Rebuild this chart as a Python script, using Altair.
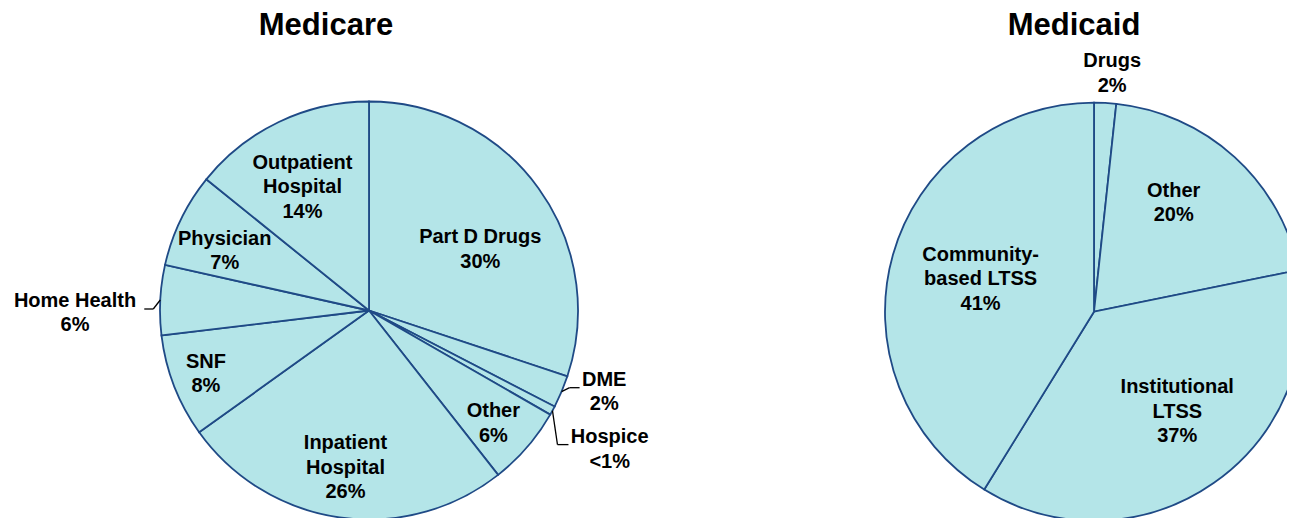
import altair as alt
import pandas as pd

# ---------------- data ----------------
care_cats = ["Part D Drugs", "DME", "Hospice", "Other", "Inpatient Hospital",
             "SNF", "Home Health", "Physician", "Outpatient Hospital"]
care_values = [30.1, 2.5, 0.7, 6.1, 25.7, 8.0, 5.4, 7.3, 14.2]
care_labels = ["Part D Drugs\n30%", "DME\n2%", "Hospice\n<1%", "Other\n6%",
               "Inpatient\nHospital\n26%", "SNF\n8%", "Home Health\n6%",
               "Physician\n7%", "Outpatient\nHospital\n14%"]

caid_cats = ["Drugs", "Other", "Institutional LTSS", "Community-based LTSS"]
caid_values = [1.7, 20.1, 37.0, 41.2]
caid_labels = ["Drugs\n2%", "Other\n20%", "Institutional\nLTSS\n37%",
               "Community-\nbased LTSS\n41%"]

titles = ["Medicare", "Medicaid"]

# ---------------- layout (label placement) ----------------
care_nudge = [7, -3.7, 1.4, 1.4, 0.4, 0, -3.4, -3.4, -2.8]
care_lr = [127, 249, 278, 168, 159, 175, 294, 156, 140]
care_kx = [0, 8, 5, 0, 0, 0, -7, 0, 0]
care_ky = [0, -4, 34, 0, 0, 0, 9, 0, 0]
care_hx = [0, 10, 11, 0, 0, 0, -9, 0, 0]

caid_nudge = [1.3, -6.1, -4.9, 0.2]
caid_lr = [239, 135, 130, 118]
caid_kx = [0, 0, 0, 0]
caid_ky = [0, 0, 0, 0]
caid_hx = [0, 0, 0, 0]

R = 209
LH = 24.5
FILL = "#B4E5E8"
EDGE = "#1F4A86"
FONT = "Liberation Sans"


def make_df(cats, values, labels, nudge, lr, kx, ky, hx):
    return pd.DataFrame({
        "cat": cats, "value": values, "label": labels,
        "idx": list(range(len(cats))), "nudge": nudge, "lr": lr,
        "kx": kx, "ky": ky, "hx": hx,
    })


def pie(df, cx, cy):
    base = alt.Chart(df)
    arcs = base.mark_arc(x=cx, y=cy, radius=R, fill=FILL, stroke=EDGE,
                         strokeWidth=1.8).encode(
        theta=alt.Theta("value:Q", stack=True),
        order=alt.Order("idx:Q"),
    )
    geo = (base
           .transform_window(cum="sum(value)", sort=[alt.SortField("idx")], frame=[None, 0])
           .transform_joinaggregate(total="sum(value)")
           .transform_calculate(
               mid="(datum.cum - datum.value/2) / datum.total * 2 * PI",
               la="datum.mid + datum.nudge * PI / 180",
               nl="split(datum.label, '\\n').length",
               lx=f"{cx} + datum.lr * sin(datum.la)",
               ly=f"{cy} - datum.lr * cos(datum.la) - (datum.nl - 1) * {LH} / 2",
               ex=f"{cx} + {R} * sin(datum.mid)",
               ey=f"{cy} - {R} * cos(datum.mid)",
               bx="datum.ex + datum.kx",
               by="datum.ey + datum.ky",
               tx="datum.bx + datum.hx",
           ))
    labels = geo.mark_text(font=FONT, fontWeight="bold", fontSize=20,
                           lineBreak="\n", lineHeight=LH, align="center",
                           baseline="middle", color="black").encode(
        x=alt.X("lx:Q", scale=None),
        y=alt.Y("ly:Q", scale=None),
        text="label:N",
    )
    lead = geo.transform_filter("datum.hx != 0")
    seg1 = lead.mark_rule(color="black", strokeWidth=1.3).encode(
        x=alt.X("ex:Q", scale=None), y=alt.Y("ey:Q", scale=None),
        x2="bx:Q", y2="by:Q")
    seg2 = lead.mark_rule(color="black", strokeWidth=1.3).encode(
        x=alt.X("bx:Q", scale=None), y=alt.Y("by:Q", scale=None),
        x2="tx:Q", y2="by:Q")
    return [arcs, seg1, seg2, labels]


care_df = make_df(care_cats, care_values, care_labels, care_nudge, care_lr,
                  care_kx, care_ky, care_hx)
caid_df = make_df(caid_cats, caid_values, caid_labels, caid_nudge, caid_lr,
                  caid_kx, caid_ky, caid_hx)

title_df = pd.DataFrame({"t": titles})
t1 = alt.Chart(title_df).transform_filter(alt.datum.t == titles[0]).mark_text(
    font=FONT, fontWeight="bold", fontSize=31, align="center",
    baseline="alphabetic", color="black").encode(
    text="t:N", x=alt.value(318), y=alt.value(27))
t2 = alt.Chart(title_df).transform_filter(alt.datum.t == titles[1]).mark_text(
    font=FONT, fontWeight="bold", fontSize=31, align="center",
    baseline="alphabetic", color="black").encode(
    text="t:N", x=alt.value(1066), y=alt.value(27))

layers = pie(care_df, 361, 302.5) + pie(caid_df, 1086, 303.7) + [t1, t2]

chart = alt.layer(*layers).resolve_scale(theta="independent").properties(
    width=1279, height=510, padding=0, autosize=alt.AutoSizeParams(type="none"),
    background="white",
).configure_view(stroke=None)

chart.save("out.html", embed_options={"renderer": "svg", "actions": False})
